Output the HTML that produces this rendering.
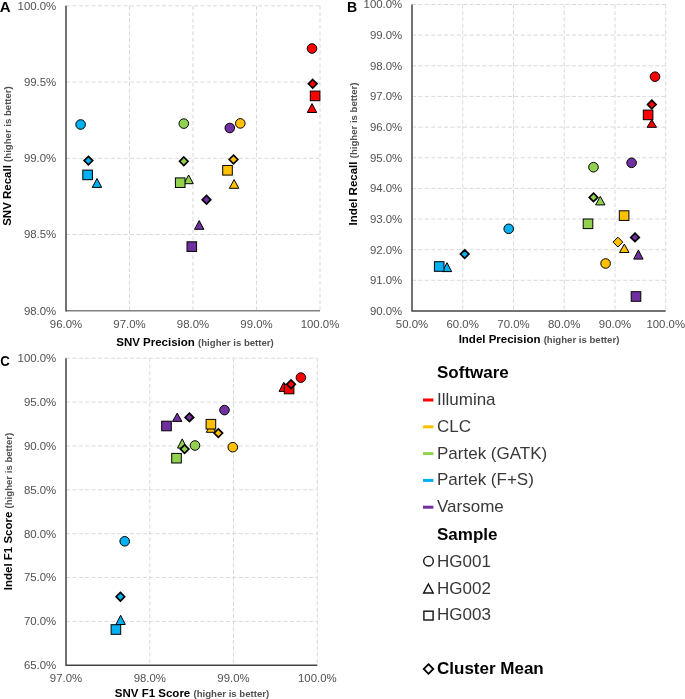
<!DOCTYPE html><html><head><meta charset="utf-8"><style>html,body{margin:0;padding:0;background:#fff;}svg{display:block;will-change:transform;}</style></head><body>
<svg width="685" height="699" viewBox="0 0 685 699" font-family='"Liberation Sans", sans-serif'>
<rect width="685" height="699" fill="#fff"/>
<line x1="129.5" y1="5.8" x2="129.5" y2="310.8" stroke="#D9D9D9" stroke-width="1" stroke-dasharray="4 2.4"/>
<line x1="193" y1="5.8" x2="193" y2="310.8" stroke="#D9D9D9" stroke-width="1" stroke-dasharray="4 2.4"/>
<line x1="256.5" y1="5.8" x2="256.5" y2="310.8" stroke="#D9D9D9" stroke-width="1" stroke-dasharray="4 2.4"/>
<line x1="320" y1="5.8" x2="320" y2="310.8" stroke="#D9D9D9" stroke-width="1" stroke-dasharray="4 2.4"/>
<line x1="66" y1="5.8" x2="320" y2="5.8" stroke="#D9D9D9" stroke-width="1" stroke-dasharray="4 2.4"/>
<line x1="66" y1="82" x2="320" y2="82" stroke="#D9D9D9" stroke-width="1" stroke-dasharray="4 2.4"/>
<line x1="66" y1="158.3" x2="320" y2="158.3" stroke="#D9D9D9" stroke-width="1" stroke-dasharray="4 2.4"/>
<line x1="66" y1="234.5" x2="320" y2="234.5" stroke="#D9D9D9" stroke-width="1" stroke-dasharray="4 2.4"/>
<path d="M66 310.8 H320" fill="none" stroke="#808080" stroke-width="1.5"/>
<path d="M66 5.8 V311.6" fill="none" stroke="#444444" stroke-width="1.5"/>
<text x="56.2" y="9.70" text-anchor="end" font-size="11.4" fill="#505050">100.0%</text>
<text x="56.2" y="85.90" text-anchor="end" font-size="11.4" fill="#505050">99.5%</text>
<text x="56.2" y="162.20" text-anchor="end" font-size="11.4" fill="#505050">99.0%</text>
<text x="56.2" y="238.40" text-anchor="end" font-size="11.4" fill="#505050">98.5%</text>
<text x="56.2" y="314.70" text-anchor="end" font-size="11.4" fill="#505050">98.0%</text>
<text x="66" y="328.2" text-anchor="middle" font-size="11.4" fill="#505050">96.0%</text>
<text x="129.5" y="328.2" text-anchor="middle" font-size="11.4" fill="#505050">97.0%</text>
<text x="193" y="328.2" text-anchor="middle" font-size="11.4" fill="#505050">98.0%</text>
<text x="256.5" y="328.2" text-anchor="middle" font-size="11.4" fill="#505050">99.0%</text>
<text x="320" y="328.2" text-anchor="middle" font-size="11.4" fill="#505050">100.0%</text>
<text x="-0.3" y="12" font-size="15" font-weight="bold" fill="#000">A</text>
<text x="195" y="345.5" text-anchor="middle" font-weight="bold" fill="#000"><tspan font-size="11.5">SNV Precision </tspan><tspan font-size="9.6" fill="#505050">(higher is better)</tspan></text>
<text transform="translate(11.2,156) rotate(-90)" text-anchor="middle" font-weight="bold" fill="#000"><tspan font-size="11.5">SNV Recall </tspan><tspan font-size="9.6" fill="#505050">(higher is better)</tspan></text>
<circle cx="80.6" cy="124.5" r="4.8" fill="#00B0F0" stroke="#000" stroke-width="1"/>
<circle cx="183.8" cy="123.6" r="4.8" fill="#92D050" stroke="#000" stroke-width="1"/>
<circle cx="229.8" cy="128" r="4.8" fill="#7030A0" stroke="#000" stroke-width="1"/>
<circle cx="240.3" cy="123.4" r="4.8" fill="#FFC000" stroke="#000" stroke-width="1"/>
<circle cx="312.0" cy="48.5" r="4.8" fill="#FF0000" stroke="#000" stroke-width="1"/>
<path d="M97 178.5 L101.7 187.4 L92.3 187.4 Z" fill="#00B0F0" stroke="#000" stroke-width="1" stroke-linejoin="miter"/>
<path d="M188.6 175 L193.29999999999998 183.7 L183.9 183.7 Z" fill="#92D050" stroke="#000" stroke-width="1" stroke-linejoin="miter"/>
<path d="M234.1 179.6 L238.79999999999998 188.3 L229.4 188.3 Z" fill="#FFC000" stroke="#000" stroke-width="1" stroke-linejoin="miter"/>
<path d="M199.2 220.6 L203.89999999999998 229.3 L194.5 229.3 Z" fill="#7030A0" stroke="#000" stroke-width="1" stroke-linejoin="miter"/>
<path d="M312 103.6 L316.7 112.5 L307.3 112.5 Z" fill="#FF0000" stroke="#000" stroke-width="1" stroke-linejoin="miter"/>
<rect x="82.8" y="170.1" width="9.6" height="9.6" fill="#00B0F0" stroke="#000" stroke-width="1"/>
<rect x="175.39999999999998" y="177.89999999999998" width="9.6" height="9.6" fill="#92D050" stroke="#000" stroke-width="1"/>
<rect x="222.7" y="165.5" width="9.6" height="9.6" fill="#FFC000" stroke="#000" stroke-width="1"/>
<rect x="187.0" y="241.79999999999998" width="9.6" height="9.6" fill="#7030A0" stroke="#000" stroke-width="1"/>
<rect x="310.3" y="91.10000000000001" width="9.6" height="9.6" fill="#FF0000" stroke="#000" stroke-width="1"/>
<path d="M88.4 156.29999999999998 L92.7 160.6 L88.4 164.9 L84.10000000000001 160.6 Z" fill="#00B0F0" stroke="#000" stroke-width="1.65"/>
<path d="M183.8 157.0 L188.10000000000002 161.3 L183.8 165.60000000000002 L179.5 161.3 Z" fill="#92D050" stroke="#000" stroke-width="1.65"/>
<path d="M233.5 155.2 L237.8 159.5 L233.5 163.8 L229.2 159.5 Z" fill="#FFC000" stroke="#000" stroke-width="1.65"/>
<path d="M206.5 195.39999999999998 L210.8 199.7 L206.5 204.0 L202.2 199.7 Z" fill="#7030A0" stroke="#000" stroke-width="1.65"/>
<path d="M312.7 79.5 L317.0 83.8 L312.7 88.1 L308.4 83.8 Z" fill="#FF0000" stroke="#000" stroke-width="1.65"/>
<line x1="462.7" y1="4.5" x2="462.7" y2="311.0" stroke="#D9D9D9" stroke-width="1" stroke-dasharray="4 2.4"/>
<line x1="513.5" y1="4.5" x2="513.5" y2="311.0" stroke="#D9D9D9" stroke-width="1" stroke-dasharray="4 2.4"/>
<line x1="564.2" y1="4.5" x2="564.2" y2="311.0" stroke="#D9D9D9" stroke-width="1" stroke-dasharray="4 2.4"/>
<line x1="615.0" y1="4.5" x2="615.0" y2="311.0" stroke="#D9D9D9" stroke-width="1" stroke-dasharray="4 2.4"/>
<line x1="665.7" y1="4.5" x2="665.7" y2="311.0" stroke="#D9D9D9" stroke-width="1" stroke-dasharray="4 2.4"/>
<line x1="412" y1="4.5" x2="665.7" y2="4.5" stroke="#D9D9D9" stroke-width="1" stroke-dasharray="4 2.4"/>
<line x1="412" y1="35.1" x2="665.7" y2="35.1" stroke="#D9D9D9" stroke-width="1" stroke-dasharray="4 2.4"/>
<line x1="412" y1="65.8" x2="665.7" y2="65.8" stroke="#D9D9D9" stroke-width="1" stroke-dasharray="4 2.4"/>
<line x1="412" y1="96.4" x2="665.7" y2="96.4" stroke="#D9D9D9" stroke-width="1" stroke-dasharray="4 2.4"/>
<line x1="412" y1="127.1" x2="665.7" y2="127.1" stroke="#D9D9D9" stroke-width="1" stroke-dasharray="4 2.4"/>
<line x1="412" y1="157.8" x2="665.7" y2="157.8" stroke="#D9D9D9" stroke-width="1" stroke-dasharray="4 2.4"/>
<line x1="412" y1="188.4" x2="665.7" y2="188.4" stroke="#D9D9D9" stroke-width="1" stroke-dasharray="4 2.4"/>
<line x1="412" y1="219.0" x2="665.7" y2="219.0" stroke="#D9D9D9" stroke-width="1" stroke-dasharray="4 2.4"/>
<line x1="412" y1="249.7" x2="665.7" y2="249.7" stroke="#D9D9D9" stroke-width="1" stroke-dasharray="4 2.4"/>
<line x1="412" y1="280.3" x2="665.7" y2="280.3" stroke="#D9D9D9" stroke-width="1" stroke-dasharray="4 2.4"/>
<path d="M412 4.5 V311.0 H665.7" fill="none" stroke="#444444" stroke-width="1.5"/>
<text x="402.2" y="8.40" text-anchor="end" font-size="11.4" fill="#505050">100.0%</text>
<text x="402.2" y="39.00" text-anchor="end" font-size="11.4" fill="#505050">99.0%</text>
<text x="402.2" y="69.70" text-anchor="end" font-size="11.4" fill="#505050">98.0%</text>
<text x="402.2" y="100.30" text-anchor="end" font-size="11.4" fill="#505050">97.0%</text>
<text x="402.2" y="131.00" text-anchor="end" font-size="11.4" fill="#505050">96.0%</text>
<text x="402.2" y="161.70" text-anchor="end" font-size="11.4" fill="#505050">95.0%</text>
<text x="402.2" y="192.30" text-anchor="end" font-size="11.4" fill="#505050">94.0%</text>
<text x="402.2" y="222.90" text-anchor="end" font-size="11.4" fill="#505050">93.0%</text>
<text x="402.2" y="253.60" text-anchor="end" font-size="11.4" fill="#505050">92.0%</text>
<text x="402.2" y="284.20" text-anchor="end" font-size="11.4" fill="#505050">91.0%</text>
<text x="402.2" y="314.90" text-anchor="end" font-size="11.4" fill="#505050">90.0%</text>
<text x="412.0" y="328.4" text-anchor="middle" font-size="11.4" fill="#505050">50.0%</text>
<text x="462.7" y="328.4" text-anchor="middle" font-size="11.4" fill="#505050">60.0%</text>
<text x="513.5" y="328.4" text-anchor="middle" font-size="11.4" fill="#505050">70.0%</text>
<text x="564.2" y="328.4" text-anchor="middle" font-size="11.4" fill="#505050">80.0%</text>
<text x="615.0" y="328.4" text-anchor="middle" font-size="11.4" fill="#505050">90.0%</text>
<text x="665.7" y="328.4" text-anchor="middle" font-size="11.4" fill="#505050">100.0%</text>
<text x="347" y="12" font-size="14" font-weight="bold" fill="#000">B</text>
<text x="539" y="342.5" text-anchor="middle" font-weight="bold" fill="#000"><tspan font-size="11.5">Indel Precision </tspan><tspan font-size="9.6" fill="#505050">(higher is better)</tspan></text>
<text transform="translate(356.5,154) rotate(-90)" text-anchor="middle" font-weight="bold" fill="#000"><tspan font-size="11.5">Indel Recall </tspan><tspan font-size="9.6" fill="#505050">(higher is better)</tspan></text>
<circle cx="508.7" cy="228.8" r="4.8" fill="#00B0F0" stroke="#000" stroke-width="1"/>
<circle cx="593.5" cy="167.2" r="4.8" fill="#92D050" stroke="#000" stroke-width="1"/>
<circle cx="631.6" cy="162.8" r="4.8" fill="#7030A0" stroke="#000" stroke-width="1"/>
<circle cx="605.6" cy="263.5" r="4.8" fill="#FFC000" stroke="#000" stroke-width="1"/>
<circle cx="655" cy="76.7" r="4.8" fill="#FF0000" stroke="#000" stroke-width="1"/>
<path d="M447 262.7 L451.7 271.6 L442.3 271.6 Z" fill="#00B0F0" stroke="#000" stroke-width="1" stroke-linejoin="miter"/>
<path d="M600.3 196.4 L605.0 204.9 L595.5999999999999 204.9 Z" fill="#92D050" stroke="#000" stroke-width="1" stroke-linejoin="miter"/>
<path d="M624.3 244 L629.0 252.5 L619.5999999999999 252.5 Z" fill="#FFC000" stroke="#000" stroke-width="1" stroke-linejoin="miter"/>
<path d="M638.4 250.1 L643.1 259.1 L633.6999999999999 259.1 Z" fill="#7030A0" stroke="#000" stroke-width="1" stroke-linejoin="miter"/>
<path d="M651.8 119.6 L656.5 127.3 L647.0999999999999 127.3 Z" fill="#FF0000" stroke="#000" stroke-width="1" stroke-linejoin="miter"/>
<rect x="434.4" y="261.7" width="9.6" height="9.6" fill="#00B0F0" stroke="#000" stroke-width="1"/>
<rect x="583.2" y="219.0" width="9.6" height="9.6" fill="#92D050" stroke="#000" stroke-width="1"/>
<rect x="619.3000000000001" y="210.79999999999998" width="9.6" height="9.6" fill="#FFC000" stroke="#000" stroke-width="1"/>
<rect x="631.2" y="291.7" width="9.6" height="9.6" fill="#7030A0" stroke="#000" stroke-width="1"/>
<rect x="643.3000000000001" y="110.10000000000001" width="9.6" height="9.6" fill="#FF0000" stroke="#000" stroke-width="1"/>
<path d="M464.7 249.79999999999998 L469.0 254.1 L464.7 258.4 L460.4 254.1 Z" fill="#00B0F0" stroke="#000" stroke-width="1.65"/>
<path d="M593.5 193.1 L597.8 197.4 L593.5 201.70000000000002 L589.2 197.4 Z" fill="#92D050" stroke="#000" stroke-width="1.65"/>
<path d="M617.9 237.2 L622.8 242.1 L617.9 247.0 L613.0 242.1 Z" fill="#FFC000" stroke="#000" stroke-width="1"/>
<path d="M635 233.1 L639.3 237.4 L635 241.70000000000002 L630.7 237.4 Z" fill="#7030A0" stroke="#000" stroke-width="1.65"/>
<path d="M651.8 100.2 L656.0999999999999 104.5 L651.8 108.8 L647.5 104.5 Z" fill="#FF0000" stroke="#000" stroke-width="1.65"/>
<line x1="149.8" y1="358.2" x2="149.8" y2="665.3" stroke="#D9D9D9" stroke-width="1" stroke-dasharray="4 2.4"/>
<line x1="233.5" y1="358.2" x2="233.5" y2="665.3" stroke="#D9D9D9" stroke-width="1" stroke-dasharray="4 2.4"/>
<line x1="317.3" y1="358.2" x2="317.3" y2="665.3" stroke="#D9D9D9" stroke-width="1" stroke-dasharray="4 2.4"/>
<line x1="66" y1="358.2" x2="317.3" y2="358.2" stroke="#D9D9D9" stroke-width="1" stroke-dasharray="4 2.4"/>
<line x1="66" y1="402.1" x2="317.3" y2="402.1" stroke="#D9D9D9" stroke-width="1" stroke-dasharray="4 2.4"/>
<line x1="66" y1="445.9" x2="317.3" y2="445.9" stroke="#D9D9D9" stroke-width="1" stroke-dasharray="4 2.4"/>
<line x1="66" y1="489.8" x2="317.3" y2="489.8" stroke="#D9D9D9" stroke-width="1" stroke-dasharray="4 2.4"/>
<line x1="66" y1="533.7" x2="317.3" y2="533.7" stroke="#D9D9D9" stroke-width="1" stroke-dasharray="4 2.4"/>
<line x1="66" y1="577.5" x2="317.3" y2="577.5" stroke="#D9D9D9" stroke-width="1" stroke-dasharray="4 2.4"/>
<line x1="66" y1="621.4" x2="317.3" y2="621.4" stroke="#D9D9D9" stroke-width="1" stroke-dasharray="4 2.4"/>
<path d="M66 358.2 V665.3 H317.3" fill="none" stroke="#444444" stroke-width="1.5"/>
<text x="56.2" y="362.10" text-anchor="end" font-size="11.4" fill="#505050">100.0%</text>
<text x="56.2" y="406.00" text-anchor="end" font-size="11.4" fill="#505050">95.0%</text>
<text x="56.2" y="449.80" text-anchor="end" font-size="11.4" fill="#505050">90.0%</text>
<text x="56.2" y="493.70" text-anchor="end" font-size="11.4" fill="#505050">85.0%</text>
<text x="56.2" y="537.60" text-anchor="end" font-size="11.4" fill="#505050">80.0%</text>
<text x="56.2" y="581.40" text-anchor="end" font-size="11.4" fill="#505050">75.0%</text>
<text x="56.2" y="625.30" text-anchor="end" font-size="11.4" fill="#505050">70.0%</text>
<text x="56.2" y="669.20" text-anchor="end" font-size="11.4" fill="#505050">65.0%</text>
<text x="66" y="682.4" text-anchor="middle" font-size="11.4" fill="#505050">97.0%</text>
<text x="149.8" y="682.4" text-anchor="middle" font-size="11.4" fill="#505050">98.0%</text>
<text x="233.5" y="682.4" text-anchor="middle" font-size="11.4" fill="#505050">99.0%</text>
<text x="317.3" y="682.4" text-anchor="middle" font-size="11.4" fill="#505050">100.0%</text>
<text transform="translate(0.2,366) scale(0.88,1)" font-size="15" font-weight="bold" fill="#000">C</text>
<text x="192" y="697" text-anchor="middle" font-weight="bold" fill="#000"><tspan font-size="11.5">SNV F1 Score </tspan><tspan font-size="9.6" fill="#505050">(higher is better)</tspan></text>
<text transform="translate(12.2,511.5) rotate(-90)" text-anchor="middle" font-weight="bold" fill="#000"><tspan font-size="11.5">Indel F1 Score </tspan><tspan font-size="9.6" fill="#505050">(higher is better)</tspan></text>
<circle cx="124.7" cy="541.3" r="4.8" fill="#00B0F0" stroke="#000" stroke-width="1"/>
<circle cx="195" cy="445.5" r="4.8" fill="#92D050" stroke="#000" stroke-width="1"/>
<circle cx="224.5" cy="410.1" r="4.8" fill="#7030A0" stroke="#000" stroke-width="1"/>
<circle cx="232.8" cy="447.2" r="4.8" fill="#FFC000" stroke="#000" stroke-width="1"/>
<circle cx="300.9" cy="377.6" r="4.8" fill="#FF0000" stroke="#000" stroke-width="1"/>
<path d="M120.6 615.3 L125.3 624.5 L115.89999999999999 624.5 Z" fill="#00B0F0" stroke="#000" stroke-width="1" stroke-linejoin="miter"/>
<path d="M182.2 438.9 L186.89999999999998 448.1 L177.5 448.1 Z" fill="#92D050" stroke="#000" stroke-width="1" stroke-linejoin="miter"/>
<path d="M211 423.5 L215.7 432.3 L206.3 432.3 Z" fill="#FFC000" stroke="#000" stroke-width="1" stroke-linejoin="miter"/>
<path d="M177.2 413.1 L181.89999999999998 421.4 L172.5 421.4 Z" fill="#7030A0" stroke="#000" stroke-width="1" stroke-linejoin="miter"/>
<path d="M283.8 382.2 L288.5 391.4 L279.1 391.4 Z" fill="#FF0000" stroke="#000" stroke-width="1" stroke-linejoin="miter"/>
<rect x="111.10000000000001" y="624.7" width="9.6" height="9.6" fill="#00B0F0" stroke="#000" stroke-width="1"/>
<rect x="171.7" y="453.4" width="9.6" height="9.6" fill="#92D050" stroke="#000" stroke-width="1"/>
<rect x="206.1" y="419.4" width="9.6" height="9.6" fill="#FFC000" stroke="#000" stroke-width="1"/>
<rect x="161.7" y="421.2" width="9.6" height="9.6" fill="#7030A0" stroke="#000" stroke-width="1"/>
<rect x="284.3" y="384.2" width="9.6" height="9.6" fill="#FF0000" stroke="#000" stroke-width="1"/>
<path d="M120.4 592.4000000000001 L124.7 596.7 L120.4 601.0 L116.10000000000001 596.7 Z" fill="#00B0F0" stroke="#000" stroke-width="1.65"/>
<path d="M184.6 444.8 L188.9 449.1 L184.6 453.40000000000003 L180.29999999999998 449.1 Z" fill="#92D050" stroke="#000" stroke-width="1.65"/>
<path d="M218.3 428.8 L222.60000000000002 433.1 L218.3 437.40000000000003 L214.0 433.1 Z" fill="#FFC000" stroke="#000" stroke-width="1.65"/>
<path d="M189.4 413.09999999999997 L193.70000000000002 417.4 L189.4 421.7 L185.1 417.4 Z" fill="#7030A0" stroke="#000" stroke-width="1.65"/>
<path d="M291 379.9 L295.3 384.2 L291 388.5 L286.7 384.2 Z" fill="#FF0000" stroke="#000" stroke-width="1.65"/>
<text x="437" y="378.3" font-size="17" font-weight="bold" fill="#000">Software</text>
<rect x="423" y="398.5" width="10.4" height="3" fill="#FF0000"/>
<text x="437" y="405.0" font-size="17" fill="#383838">Illumina</text>
<rect x="423" y="425.3" width="10.4" height="3" fill="#FFC000"/>
<text x="437" y="431.8" font-size="17" fill="#383838">CLC</text>
<rect x="423" y="452.1" width="10.4" height="3" fill="#92D050"/>
<text x="437" y="458.6" font-size="17" fill="#383838">Partek (GATK)</text>
<rect x="423" y="478.9" width="10.4" height="3" fill="#00B0F0"/>
<text x="437" y="485.4" font-size="17" fill="#383838">Partek (F+S)</text>
<rect x="423" y="505.7" width="10.4" height="3" fill="#7030A0"/>
<text x="437" y="512.2" font-size="17" fill="#383838">Varsome</text>
<text x="437" y="539.6" font-size="17" font-weight="bold" fill="#000">Sample</text>
<text x="437" y="566.6" font-size="17" fill="#383838">HG001</text>
<text x="437" y="593.5" font-size="17" fill="#383838">HG002</text>
<text x="437" y="620.4" font-size="17" fill="#383838">HG003</text>
<circle cx="428.5" cy="561.2" r="4.8" fill="none" stroke="#111" stroke-width="1.4"/>
<path d="M428.4 584 L433.2 593 L423.6 593 Z" fill="none" stroke="#111" stroke-width="1.4"/>
<rect x="423.9" y="611.2" width="9.2" height="8.8" fill="none" stroke="#111" stroke-width="1.4"/>
<text x="437" y="674" font-size="17" font-weight="bold" fill="#000">Cluster Mean</text>
<path d="M428.5 664.2 L433.3 669 L428.5 673.8 L423.7 669 Z" fill="none" stroke="#000" stroke-width="1.8"/>
</svg></body></html>
